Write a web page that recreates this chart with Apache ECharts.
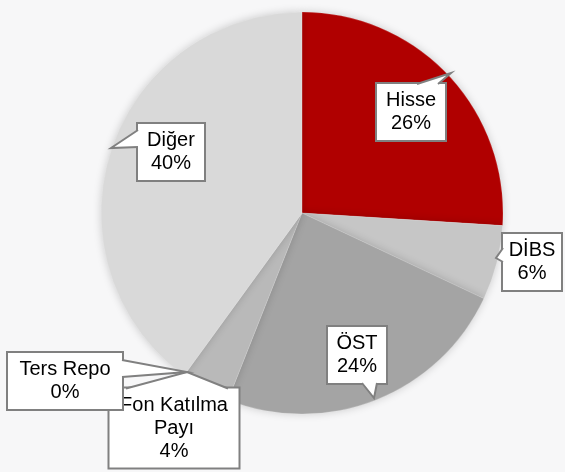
<!DOCTYPE html>
<html>
<head>
<meta charset="utf-8">
<script src="https://cdn.jsdelivr.net/npm/echarts@6/dist/echarts.min.js"></script>
<style>
  html, body { margin: 0; padding: 0; background: #f7f7f8; }
</style>
</head>
<body>
<div id="main" style="width: 565px; height: 472px;"></div>
<script>
// dağılım (%)
var names = ['Hisse', 'DİBS', 'ÖST', 'Fon Katılma\nPayı', 'Ters Repo', 'Diğer']
var values = [26, 6, 24, 4, 0, 40]
var colors = ['#b00000', '#c6c6c6', '#a4a4a4', '#b9b9b9', '#b0b0b0', '#d9d9d9']

// callout kutu merkezleri, genişlikleri
var boxPos = [[411, 112], [532, 262], [357, 355], [174, 428], [65, 381], [171, 152]]
var boxWidth = [68, 58, 58, 129, 114, 66]
// kuyruk: [kenar1, uç, kenar2] ve kutu içine kaydırma
var tails = [
  [[417, 84], [451, 73], [438, 84]],
  [[503, 248], [496, 258], [503, 262]],
  [[362, 383], [374, 398], [377, 383]],
  [[126, 388.5], [187, 372], [228, 388.5]],
  [[122, 360], [187, 372], [122, 377]],
  [[138, 130], [111, 148], [138, 147]]
]
var tailInset = [[0, 2.5], [2.5, 0], [0, -2.5], [0, 2.5], [-2.5, 0], [2.5, 0]]

var tailGraphics = []
tails.forEach(function (t, i) {
  var d = tailInset[i]
  // beyaz dolgu (kutu kenarını da örter)
  tailGraphics.push({
    type: 'polygon',
    z: 100,
    silent: true,
    shape: {
      points: [[t[0][0] + d[0], t[0][1] + d[1]], t[0], t[1], t[2], [t[2][0] + d[0], t[2][1] + d[1]]]
    },
    style: { fill: '#fff', stroke: null }
  })
  tailGraphics.push({
    type: 'polyline',
    z: 100,
    silent: true,
    shape: { points: t },
    style: { stroke: '#808080', lineWidth: 2, fill: null }
  })
})

var myChart = echarts.init(document.getElementById('main'))

var option = {
  backgroundColor: '#f7f7f8',
  animation: false,
  graphic: tailGraphics,
  series: [
    {
      type: 'pie',
      center: [302, 213],
      radius: 201,
      startAngle: 90,
      clockwise: true,
      itemStyle: {
        borderColor: 'rgba(255,255,255,0.35)',
        borderWidth: 0.5,
        shadowBlur: 8,
        shadowColor: 'rgba(0, 0, 0, 0.18)'
      },
      label: {
        show: true,
        position: 'outside',
        overflow: 'none',
        formatter: function (p) {
          return p.name + '\n' + p.value + '%'
        },
        fontFamily: 'Liberation Sans, Arial, sans-serif',
        fontSize: 20,
        lineHeight: 23,
        color: '#000',
        backgroundColor: '#fff',
        borderColor: '#808080',
        borderWidth: 2,
        padding: [5, 0]
      },
      labelLine: { show: false },
      labelLayout: function (params) {
        var i = params.dataIndex
        return {
          x: boxPos[i][0],
          y: boxPos[i][1],
          width: boxWidth[i],
          align: 'center',
          verticalAlign: 'middle'
        }
      },
      emphasis: { disabled: true },
      data: names.map(function (n, i) {
        return { name: n, value: values[i], itemStyle: { color: colors[i] } }
      })
    }
  ]
}

option && myChart.setOption(option)
</script>
</body>
</html>
